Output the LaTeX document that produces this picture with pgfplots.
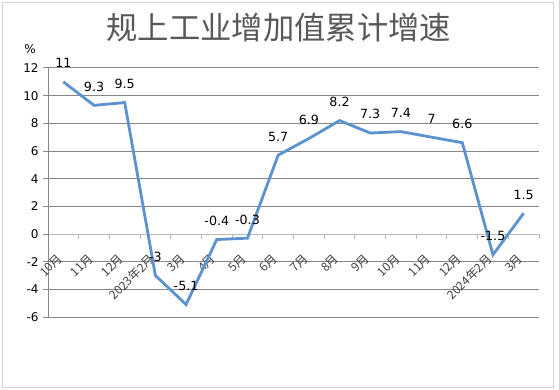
\documentclass[border=0pt]{standalone}
\usepackage{pgfplots}
\pgfplotsset{compat=1.18}
\usepackage{fontspec}
\setmainfont{DejaVu Sans}
\newfontfamily\cjk{Noto Sans CJK SC}
\definecolor{linec}{RGB}{91,146,207}
\definecolor{gridc}{RGB}{134,134,134}
\definecolor{axc}{RGB}{185,185,185}
\definecolor{titlec}{RGB}{89,89,89}
\definecolor{labc}{RGB}{64,64,64}
\pgfplotstableread{
x y lab
0 11 11
1 9.3 9.3
2 9.5 9.5
3 -3 -3
4 -5.1 -5.1
5 -0.4 -0.4
6 -0.3 -0.3
7 5.7 5.7
8 6.9 6.9
9 8.2 8.2
10 7.3 7.3
11 7.4 7.4
12 7 7
13 6.6 6.6
14 -1.5 -1.5
15 1.5 1.5
}\datatab
\begin{document}
\begin{tikzpicture}
\path[use as bounding box] (0,0) rectangle (419.25pt,291.75pt);
\fill[white] (0,0) rectangle (419.25pt,291.75pt);
\draw[gray!35, line width=0.75pt] (1.5pt,1.5pt) rectangle (415pt,289.5pt);
\node[font=\cjk\fontsize{23.5}{25}\selectfont, text=titlec] at (209pt,271pt) {规上工业增加值累计增速};
\node[font=\fontsize{9}{11}\selectfont] at (22.5pt,255pt) {\%};
\begin{axis}[
  at={(36pt,54pt)}, anchor=south west,
  scale only axis, width=368.25pt, height=186.75pt,
  xmin=-0.5, xmax=15.5, ymin=-6, ymax=12,
  axis x line=middle, axis y line=left,
  x axis line style={-, draw=axc, line width=0.75pt},
  y axis line style={-, draw=gridc, line width=0.75pt},
  xtick={0,...,15},
  xticklabels={10月,11月,12月,2023年2月,3月,4月,5月,6月,7月,8月,9月,10月,11月,12月,2024年2月,3月},
  major x tick style={draw=none},
  minor xtick={-0.5,0.5,...,15.5},
  minor x tick style={draw=axc, line width=0.75pt},
  minor tick length=3.5pt,
  xtick align=outside, ytick align=outside,
  ytick={-6,-4,...,12},
  yticklabels={-6,-4,-2,0,2,4,6,8,10,12},
  major tick length=3.5pt,
  y tick style={draw=gridc, line width=0.75pt},
  ymajorgrids,
  major grid style={draw=gridc, line width=0.75pt},
  xticklabel style={yshift=-11pt, xshift=0pt, font=\cjk\fontsize{9}{10}\selectfont, text=labc, rotate=45, anchor=east},
  yticklabel style={font=\fontsize{9}{11}\selectfont, text=black},
  clip=false,
  nodes near coords,
  point meta=explicit symbolic,
  every node near coord/.append style={font=\fontsize{9.5}{11}\selectfont, text=black, anchor=center, yshift=14pt},
]
\addplot[color=linec, line width=2.1pt, mark=none] table[x=x, y=y, meta=lab] {\datatab};
\end{axis}
\end{tikzpicture}
\end{document}
